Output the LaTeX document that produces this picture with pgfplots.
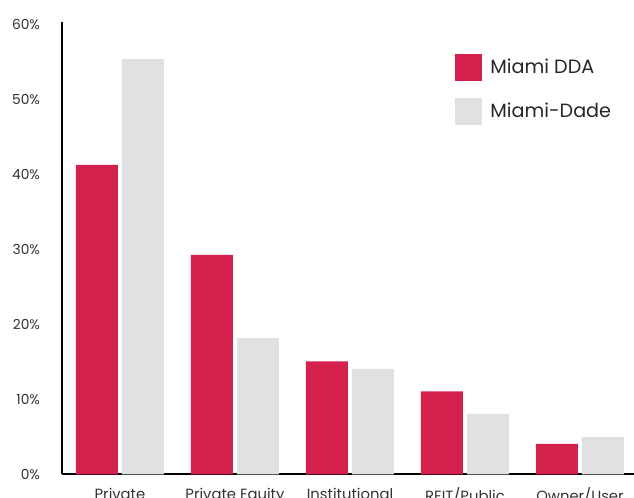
\documentclass[border=0pt]{standalone}
\usepackage{pgfplots}
\pgfplotsset{compat=1.18}
\usepackage{fontspec}
\setmainfont{Poppins}
\definecolor{ddared}{HTML}{D4204C}
\definecolor{dadegray}{HTML}{E0E1E3}
\begin{document}
\begin{tikzpicture}
\begin{axis}[
  scale only axis,
  width=286pt, height=226.4pt,
  xmin=-0.504, xmax=4.4696,
  ymin=0, ymax=60.4,
  ybar=2pt, bar width=21pt,
  axis lines=left,
  axis line style={-, line width=1pt, black},
  major tick length=0pt,
  xtick={0,1,2,3,4},
  xticklabels={Private, Private Equity, Institutional, REIT/Public, Owner/User},
  ytick={0,10,20,30,40,50,60},
  yticklabels={0\%,10\%,20\%,30\%,40\%,50\%,60\%},
  /pgf/number format/assume math mode=true,
  yticklabel style={font=\fontsize{6.9}{8}\selectfont, text=black!80, xshift=-7.5pt},
  xticklabel style={font=\fontsize{7.4}{9}\selectfont, text=black!80, yshift=-3.2pt},
  legend style={at={(0.687,0.9287)}, anchor=north west, draw=none, fill=none, inner sep=0pt,
    font=\fontsize{9.6}{11}\selectfont, text=black!85, row sep=8.5pt,
    /tikz/every odd column/.append style={column sep=2pt}},
  legend cell align=left,
  clip=false,
]
\addplot[fill=ddared, draw=none, legend image code/.code={\fill[ddared] (0pt,-6.75pt) rectangle (13.5pt,6.75pt);}]
  coordinates {(0,41.3) (1,29.3) (2,15.1) (3,11.1) (4,4.1)};
\addplot[fill=dadegray, draw=none, legend image code/.code={\fill[dadegray] (0pt,-6.75pt) rectangle (13.5pt,6.75pt);}]
  coordinates {(0,55.4) (1,18.2) (2,14.1) (3,8.1) (4,5.0)};
\legend{Miami DDA, Miami-Dade}
\coordinate (sw) at (rel axis cs:0,0);
\end{axis}
\pgfresetboundingbox
\path ([shift={(-31pt,-11.75pt)}]sw) rectangle ([shift={(286pt,237.25pt)}]sw);
\end{tikzpicture}
\end{document}
